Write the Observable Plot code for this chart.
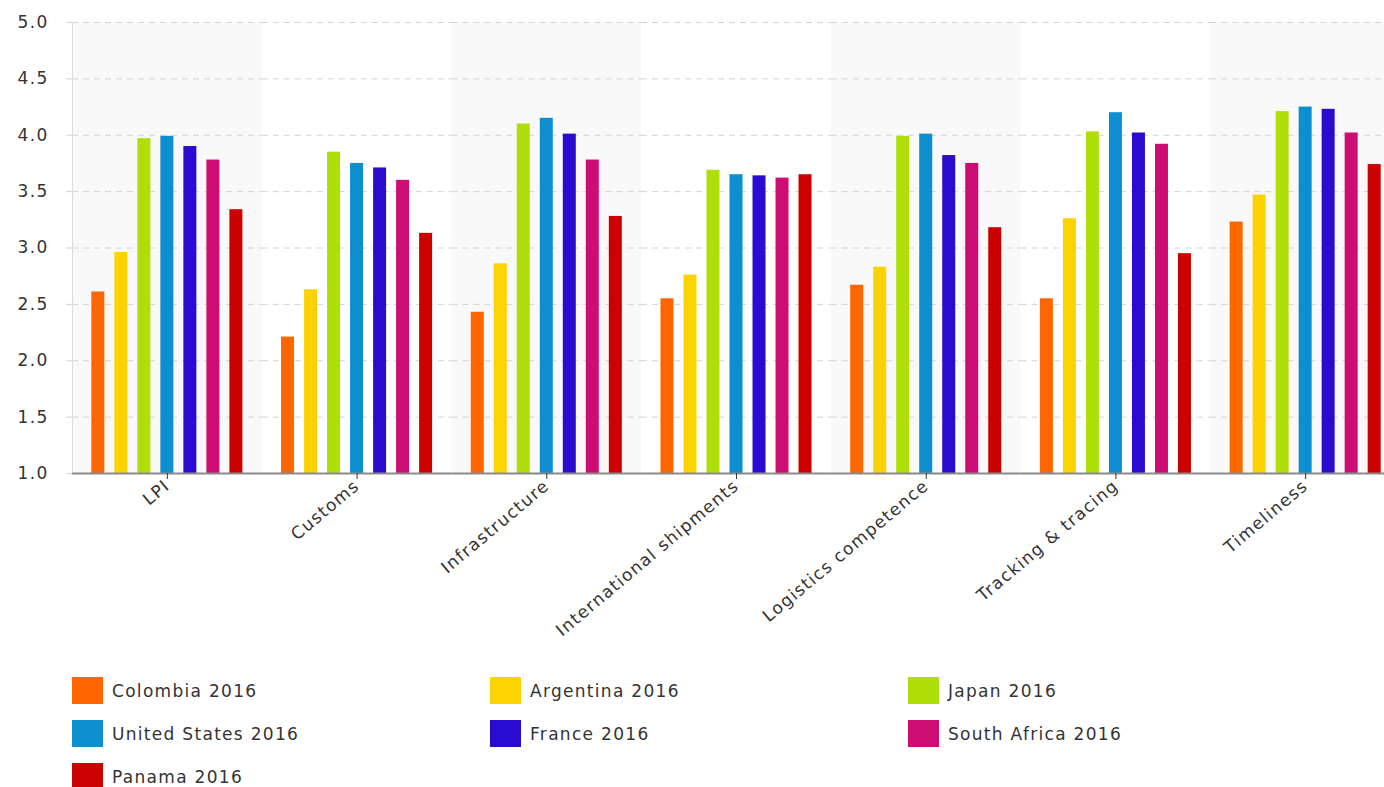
<!DOCTYPE html>
<html>
<head>
<meta charset="utf-8">
<script src="https://cdn.jsdelivr.net/npm/d3@7"></script>
<script src="https://cdn.jsdelivr.net/npm/@observablehq/plot@0.6"></script>
<style>
  html, body { margin: 0; padding: 0; background: #fff; overflow: hidden; }
  body { font-family: "DejaVu Sans", Verdana, sans-serif; color: #333; }
  #chart { width: 1400px; }
  #legend {
    display: grid;
    grid-template-columns: repeat(3, 418px);
    row-gap: 16px;
    padding: 22px 0 0 72px;
  }
  .item { display: flex; align-items: center; height: 27px; font-size: 17px; letter-spacing: 1.3px; white-space: nowrap; }
  .sw { width: 31px; height: 27px; margin-right: 9px; flex: none; }
</style>
</head>
<body>
<div id="chart"></div>
<div id="legend"></div>
<script>
// Logistics Performance Index 2016, scores by dimension (1–5)
const categories = ["LPI", "Customs", "Infrastructure", "International shipments",
  "Logistics competence", "Tracking & tracing", "Timeliness"];
const countries = ["Colombia 2016", "Argentina 2016", "Japan 2016", "United States 2016",
  "France 2016", "South Africa 2016", "Panama 2016"];
const colors = ["#FF6600", "#FCD202", "#B0DE09", "#0D8ECF", "#2A0CD0", "#CD0D74", "#CC0000"];

const colombia    = [2.61, 2.21, 2.43, 2.55, 2.67, 2.55, 3.23];
const argentina   = [2.96, 2.63, 2.86, 2.76, 2.83, 3.26, 3.47];
const japan       = [3.97, 3.85, 4.10, 3.69, 3.99, 4.03, 4.21];
const unitedStates= [3.99, 3.75, 4.15, 3.65, 4.01, 4.20, 4.25];
const france      = [3.90, 3.71, 4.01, 3.64, 3.82, 4.02, 4.23];
const southAfrica = [3.78, 3.60, 3.78, 3.62, 3.75, 3.92, 4.02];
const panama      = [3.34, 3.13, 3.28, 3.65, 3.18, 2.95, 3.74];

const yTicks = [1, 1.5, 2, 2.5, 3, 3.5, 4, 4.5, 5];

const series = [colombia, argentina, japan, unitedStates, france, southAfrica, panama];
const rows = [];
series.forEach((values, s) => {
  values.forEach((value, c) => rows.push({category: categories[c], country: countries[s], value}));
});

// alternate category bands get a light background
const shaded = categories.filter((d, i) => i % 2 === 0);

const font = '"DejaVu Sans", Verdana, sans-serif';

const chart = Plot.plot({
  width: 1400,
  height: 655,
  marginLeft: 72,
  marginRight: 0,
  marginTop: 22,
  marginBottom: 182,
  style: {fontFamily: font, fontSize: "17px", color: "#333", letterSpacing: "1.3px", background: "#fff", maxWidth: "none"},
  fx: {domain: categories, padding: 0, round: false, label: null},
  x: {domain: countries, paddingInner: 0.435, paddingOuter: 0.84, round: false, axis: null},
  y: {domain: [1, 5], label: null},
  color: {domain: countries, range: colors},
  marks: [
    Plot.barY(shaded, {fx: d => d, y1: () => 1, y2: () => 5, fill: "#f9f9f9"}),
    Plot.gridY(yTicks, {stroke: "#d2d2d2", strokeOpacity: 1, strokeDasharray: "6,5"}),
    Plot.axisY(yTicks, {
      tickFormat: d3.format(".1f"), tickSize: 11, tickPadding: 13,
      stroke: "#d2d2d2", strokeDasharray: "6,5", label: null, fontSize: 17
    }),
    Plot.frame({anchor: "left", stroke: "#dcdcdc", facetAnchor: "left"}),
    Plot.barY(rows, {fx: "category", x: "country", y1: () => 1, y2: "value", fill: "country"}),
    Plot.ruleY([1], {stroke: "#8a8a8a", strokeWidth: 2}),
    Plot.axisFx({
      anchor: "bottom", tickRotate: -40, tickSize: 6, tickPadding: 4,
      label: null, fontSize: 17, stroke: "#333"
    })
  ]
});
document.getElementById("chart").appendChild(chart);

// legend: three columns of coloured swatches
const legend = document.getElementById("legend");
countries.forEach((name, i) => {
  const item = document.createElement("div");
  item.className = "item";
  const sw = document.createElement("span");
  sw.className = "sw";
  sw.style.background = colors[i];
  const label = document.createElement("span");
  label.textContent = name;
  item.appendChild(sw);
  item.appendChild(label);
  legend.appendChild(item);
});
</script>
</body>
</html>
